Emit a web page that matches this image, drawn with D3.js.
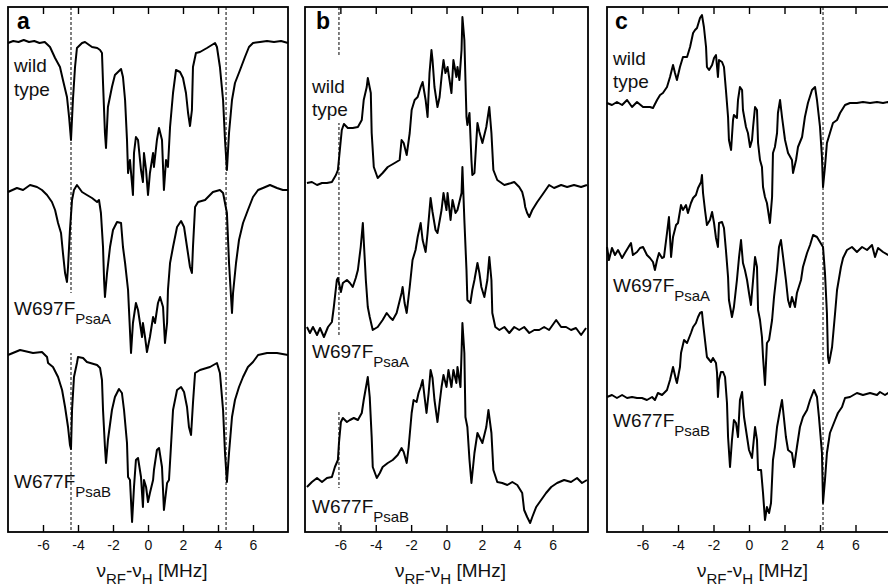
<!DOCTYPE html>
<html>
<head>
<meta charset="utf-8">
<script src="https://cdn.jsdelivr.net/npm/d3@7"></script>
<style>
  body { margin: 0; background: #fff; }
  svg { display: block; font-family: "Liberation Sans", Arial, Helvetica, sans-serif; }
</style>
</head>
<body>
<div class="chart"></div>
<script>
// ENDOR spectra, x = nu_RF - nu_H [MHz], y = intensity (a.u., stacked)
var ticks = [-6, -4, -2, 0, 2, 4, 6];
var panelLetters = ["a", "b", "c"];
var sampleNames = ["wild type", "W697F", "W677F"];
var sampleSubs = ["", "PsaA", "PsaB"];
var markersA = [-4.4, 4.46];
var markersB = [-6.08];
var markersC = [4.17];

var aWild = [[-8.0,489],[-7.7,491],[-7.4,490],[-7.1,492],[-6.8,490],[-6.5,491],[-6.2,489],[-5.9,490],[-5.6,485],[-5.31,474],[-5.03,465],[-4.86,452],[-4.63,435],[-4.51,415],[-4.4,392],[-4.29,432],[-4.17,465],[-4.06,484],[-3.77,489],[-3.6,490],[-3.2,485],[-2.9,484],[-2.74,482],[-2.63,479],[-2.57,449],[-2.46,399],[-2.4,384],[-2.29,425],[-2.06,445],[-1.89,457],[-1.54,463],[-1.43,455],[-1.31,432],[-1.2,392],[-1.14,359],[-1.03,372],[-0.86,337],[-0.8,379],[-0.69,395],[-0.57,392],[-0.4,362],[-0.29,350],[-0.23,379],[-0.11,362],[0,337],[0.11,359],[0.29,379],[0.34,365],[0.51,392],[0.63,404],[0.8,392],[0.91,342],[1.03,372],[1.14,365],[1.26,405],[1.43,439],[1.6,462],[1.83,460],[2.0,454],[2.17,439],[2.29,419],[2.4,406],[2.51,422],[2.57,465],[2.74,479],[2.97,480],[3.37,484],[3.83,489],[3.94,485],[4.11,465],[4.29,432],[4.4,392],[4.51,362],[4.63,399],[4.8,432],[4.97,449],[5.26,462],[5.54,475],[5.77,485],[6.0,489],[6.4,490],[6.8,491],[7.2,490],[7.6,491],[8.0,489]];
var aW697F = [[-8,340],[-7.49,344],[-7.14,342],[-6.74,347],[-6.34,345],[-6.06,342],[-5.77,337],[-5.49,330],[-5.31,322],[-5.14,309],[-4.97,299],[-4.86,279],[-4.74,259],[-4.63,250],[-4.57,265],[-4.46,302],[-4.34,332],[-4.23,342],[-4.06,347],[-3.77,340],[-3.49,337],[-3.2,334],[-2.91,330],[-2.8,332],[-2.69,319],[-2.57,285],[-2.51,252],[-2.46,235],[-2.34,259],[-2.17,285],[-2.0,302],[-1.77,310],[-1.54,309],[-1.43,285],[-1.31,269],[-1.14,242],[-0.97,179],[-0.86,209],[-0.69,229],[-0.57,222],[-0.34,195],[-0.29,209],[-0.17,195],[-0.06,180],[0.11,195],[0.29,215],[0.4,209],[0.57,229],[0.69,235],[0.86,225],[0.97,189],[1.09,209],[1.14,242],[1.26,269],[1.43,285],[1.66,305],[1.89,311],[2.06,305],[2.23,285],[2.4,265],[2.51,259],[2.57,285],[2.69,325],[2.86,330],[3.26,332],[3.71,340],[4.11,342],[4.29,339],[4.51,319],[4.63,269],[4.8,219],[4.86,239],[5.03,269],[5.2,292],[5.43,309],[5.71,322],[6.0,335],[6.29,342],[6.57,344],[6.97,347],[7.37,344],[7.71,342],[8,342]];
var aW677F = [[-8,177],[-7.31,182],[-6.57,179],[-6.06,180],[-5.77,175],[-5.71,169],[-5.43,165],[-5.14,155],[-4.91,142],[-4.74,125],[-4.57,105],[-4.46,87],[-4.4,83],[-4.34,122],[-4.23,155],[-4.06,169],[-4.0,175],[-3.71,174],[-3.49,170],[-2.91,167],[-2.74,164],[-2.63,152],[-2.57,122],[-2.46,85],[-2.4,69],[-2.29,92],[-2.06,122],[-1.89,135],[-1.66,143],[-1.49,139],[-1.37,122],[-1.2,89],[-1.14,55],[-1.03,52],[-0.91,10],[-0.8,45],[-0.69,72],[-0.57,74],[-0.4,55],[-0.29,25],[-0.23,52],[-0.11,45],[0,30],[0.11,39],[0.29,52],[0.34,62],[0.51,82],[0.63,84],[0.8,65],[0.91,22],[1.09,49],[1.2,52],[1.31,85],[1.43,122],[1.66,142],[1.89,145],[2.06,140],[2.23,125],[2.34,105],[2.46,97],[2.57,129],[2.69,159],[2.97,162],[3.54,165],[3.94,169],[4.11,159],[4.29,122],[4.4,79],[4.51,50],[4.63,79],[4.8,115],[4.97,132],[5.2,145],[5.43,155],[5.71,165],[6.0,170],[6.29,177],[6.8,179],[7.37,179],[8,177]];

var bWild = [[-7.89,349],[-7.61,350],[-7.32,347],[-7.04,349],[-6.76,349],[-6.48,350],[-6.25,357],[-6.14,362],[-6.03,382],[-5.92,402],[-5.8,408],[-5.58,404],[-5.3,404],[-5.01,405],[-4.79,412],[-4.68,432],[-4.51,445],[-4.45,454],[-4.28,439],[-4.23,399],[-4.11,365],[-3.89,354],[-3.61,359],[-3.32,365],[-2.93,369],[-2.65,372],[-2.54,392],[-2.42,389],[-2.25,377],[-2.08,399],[-1.97,422],[-1.8,432],[-1.63,435],[-1.46,445],[-1.35,450],[-1.18,432],[-1.07,415],[-0.96,459],[-0.85,482],[-0.79,472],[-0.68,445],[-0.51,425],[-0.39,435],[-0.28,455],[-0.17,472],[-0.06,459],[0.06,465],[0.17,452],[0.28,439],[0.39,472],[0.56,455],[0.62,465],[0.73,452],[0.85,482],[0.9,515],[1.01,492],[1.13,415],[1.18,407],[1.3,419],[1.41,372],[1.46,357],[1.58,359],[1.69,392],[1.75,409],[1.86,400],[2.03,389],[2.25,405],[2.42,425],[2.54,399],[2.65,362],[2.87,352],[3.27,347],[3.66,349],[3.83,350],[4.11,345],[4.28,340],[4.39,332],[4.45,325],[4.56,319],[4.68,315],[4.85,322],[5.13,330],[5.41,337],[5.8,347],[6.08,344],[6.48,347],[6.82,345],[7.21,347],[7.61,345],[7.94,347]];
var bW697F = [[-7.89,205],[-7.72,199],[-7.55,205],[-7.32,197],[-7.15,204],[-6.93,195],[-6.7,205],[-6.48,210],[-6.37,225],[-6.2,252],[-6.14,254],[-5.97,240],[-5.86,249],[-5.63,252],[-5.46,249],[-5.3,245],[-5.13,254],[-5.01,262],[-4.85,285],[-4.73,309],[-4.68,292],[-4.56,252],[-4.45,225],[-4.34,215],[-4.17,202],[-3.89,205],[-3.61,212],[-3.38,219],[-3.21,215],[-3.04,212],[-2.82,219],[-2.54,239],[-2.48,245],[-2.37,229],[-2.25,219],[-2.08,245],[-1.92,272],[-1.75,282],[-1.63,295],[-1.46,309],[-1.35,292],[-1.18,280],[-1.07,299],[-0.9,334],[-0.79,320],[-0.62,302],[-0.51,299],[-0.28,322],[-0.17,339],[0,322],[0.06,339],[0.23,312],[0.34,332],[0.51,319],[0.62,322],[0.85,339],[0.9,365],[1.01,312],[1.13,262],[1.18,232],[1.35,229],[1.46,242],[1.58,252],[1.75,269],[1.86,259],[1.97,245],[2.14,235],[2.31,252],[2.42,275],[2.54,252],[2.59,219],[2.76,205],[2.99,202],[3.27,205],[3.55,199],[3.83,205],[4.11,202],[4.39,205],[4.68,199],[4.96,202],[5.24,202],[5.52,205],[5.8,202],[6.2,212],[6.48,205],[6.76,205],[7.04,202],[7.32,204],[7.61,197],[7.89,204]];
var bW677F = [[-7.89,45],[-7.61,50],[-7.32,54],[-7.04,50],[-6.76,54],[-6.48,55],[-6.31,65],[-6.14,72],[-6.08,89],[-5.97,110],[-5.86,114],[-5.63,110],[-5.46,112],[-5.24,114],[-5.01,112],[-4.79,119],[-4.68,132],[-4.51,149],[-4.45,155],[-4.34,135],[-4.23,95],[-4.17,65],[-3.94,54],[-3.77,59],[-3.61,65],[-3.32,69],[-3.04,72],[-2.76,77],[-2.54,84],[-2.42,80],[-2.25,69],[-2.14,85],[-1.97,119],[-1.86,132],[-1.69,130],[-1.58,139],[-1.46,145],[-1.35,152],[-1.24,135],[-1.13,119],[-1.01,139],[-0.9,162],[-0.79,154],[-0.68,132],[-0.51,110],[-0.39,129],[-0.28,145],[-0.17,157],[0,145],[0.11,162],[0.28,145],[0.39,162],[0.56,149],[0.62,165],[0.79,145],[0.85,179],[0.9,209],[1.01,179],[1.07,115],[1.18,105],[1.3,72],[1.41,49],[1.58,79],[1.75,99],[1.86,95],[2.03,89],[2.25,105],[2.37,122],[2.54,99],[2.65,62],[2.87,50],[3.15,49],[3.44,47],[3.72,50],[4.0,47],[4.28,39],[4.39,22],[4.56,15],[4.73,9],[4.85,15],[5.07,25],[5.35,32],[5.63,39],[5.92,45],[6.25,49],[6.65,52],[7.04,50],[7.38,54],[7.66,49],[7.94,52]];

var cWild = [[-8.0,429],[-7.72,427],[-7.44,430],[-7.15,427],[-6.87,432],[-6.59,425],[-6.31,430],[-5.97,425],[-5.58,425],[-5.41,424],[-5.18,432],[-5.01,437],[-4.85,439],[-4.62,445],[-4.45,455],[-4.28,467],[-4.17,459],[-4.06,452],[-3.89,465],[-3.72,475],[-3.49,475],[-3.32,485],[-3.15,499],[-3.04,502],[-2.93,504],[-2.76,514],[-2.65,517],[-2.54,505],[-2.42,485],[-2.37,465],[-2.25,462],[-2.08,467],[-1.97,474],[-1.86,477],[-1.75,455],[-1.69,472],[-1.52,470],[-1.41,465],[-1.3,442],[-1.18,415],[-1.13,392],[-1.01,382],[-0.9,412],[-0.85,417],[-0.68,414],[-0.62,432],[-0.51,445],[-0.39,442],[-0.34,422],[-0.17,405],[-0.06,399],[0.06,385],[0.17,392],[0.23,405],[0.34,425],[0.45,422],[0.51,389],[0.62,372],[0.73,365],[0.79,345],[0.9,335],[1.01,329],[1.07,322],[1.18,309],[1.3,335],[1.35,379],[1.46,385],[1.58,399],[1.63,419],[1.75,432],[1.86,415],[2.03,392],[2.2,379],[2.42,372],[2.48,359],[2.65,372],[2.76,385],[2.99,395],[3.15,415],[3.32,429],[3.55,442],[3.72,445],[3.83,432],[4.0,405],[4.11,375],[4.17,345],[4.28,365],[4.39,389],[4.56,399],[4.73,409],[4.96,412],[5.13,419],[5.41,427],[5.69,429],[6.08,429],[6.42,430],[6.82,429],[7.21,430],[7.55,429],[7.83,430],[8.0,428]];
var cW697F = [[-8.0,285],[-7.89,272],[-7.72,284],[-7.55,277],[-7.38,282],[-7.15,274],[-6.99,279],[-6.82,284],[-6.65,289],[-6.54,277],[-6.31,280],[-6.14,284],[-5.97,285],[-5.75,277],[-5.58,274],[-5.41,270],[-5.3,262],[-5.18,272],[-5.07,279],[-4.9,274],[-4.79,275],[-4.62,299],[-4.51,315],[-4.39,275],[-4.28,295],[-4.11,307],[-4.0,309],[-3.83,327],[-3.72,322],[-3.55,327],[-3.44,319],[-3.27,329],[-3.15,334],[-2.99,337],[-2.87,344],[-2.7,350],[-2.65,357],[-2.59,339],[-2.48,322],[-2.37,307],[-2.2,312],[-2.08,320],[-1.97,309],[-1.86,294],[-1.75,285],[-1.69,309],[-1.52,310],[-1.41,304],[-1.3,282],[-1.18,255],[-1.13,232],[-0.96,215],[-0.85,225],[-0.68,252],[-0.56,275],[-0.45,292],[-0.34,269],[-0.23,262],[-0.11,252],[0,239],[0.11,227],[0.23,252],[0.34,275],[0.45,265],[0.51,222],[0.62,212],[0.73,195],[0.79,175],[0.9,147],[1.01,189],[1.13,192],[1.3,212],[1.41,235],[1.58,262],[1.69,285],[1.8,292],[1.92,275],[2.08,252],[2.2,232],[2.31,225],[2.42,235],[2.59,225],[2.7,239],[2.93,252],[3.04,265],[3.27,279],[3.44,287],[3.61,297],[3.83,295],[4.0,290],[4.17,285],[4.28,259],[4.39,219],[4.45,175],[4.51,169],[4.68,185],[4.85,219],[4.96,242],[5.18,265],[5.3,274],[5.52,282],[5.8,285],[6.08,280],[6.37,285],[6.65,282],[6.93,287],[7.1,275],[7.27,284],[7.55,280],[7.83,277],[8.0,279]];
var cW677F = [[-8.0,135],[-7.72,137],[-7.44,134],[-7.15,137],[-6.87,134],[-6.59,135],[-6.31,134],[-6.03,134],[-5.75,132],[-5.46,135],[-5.3,132],[-5.13,139],[-4.9,137],[-4.73,140],[-4.62,142],[-4.45,152],[-4.28,165],[-4.11,152],[-4.06,149],[-3.89,165],[-3.83,179],[-3.66,192],[-3.49,189],[-3.27,199],[-3.15,205],[-2.99,209],[-2.87,215],[-2.76,219],[-2.65,220],[-2.59,209],[-2.48,192],[-2.37,175],[-2.14,170],[-2.03,174],[-1.86,169],[-1.8,159],[-1.75,135],[-1.69,152],[-1.58,160],[-1.46,160],[-1.35,155],[-1.24,129],[-1.18,95],[-1.07,65],[-0.96,92],[-0.85,112],[-0.73,109],[-0.62,95],[-0.51,132],[-0.39,140],[-0.28,115],[-0.11,95],[0,82],[0.17,74],[0.23,85],[0.34,105],[0.45,92],[0.51,62],[0.68,62],[0.79,39],[0.9,12],[1.01,25],[1.13,19],[1.24,29],[1.35,72],[1.46,85],[1.58,105],[1.75,122],[1.86,132],[1.92,122],[2.08,95],[2.2,82],[2.42,79],[2.54,65],[2.7,85],[2.87,105],[3.04,115],[3.27,122],[3.44,132],[3.66,142],[3.83,135],[3.94,115],[4.11,79],[4.17,29],[4.28,52],[4.39,79],[4.56,99],[4.85,112],[5.01,119],[5.24,125],[5.41,134],[5.69,135],[6.08,139],[6.42,137],[6.82,139],[7.21,137],[7.38,140],[7.66,137],[7.83,139],[8.0,137]];

(function() {
  var width = 888, height = 586,
    top = 7, bottom = 532;

  var svg = d3.select(".chart").append("svg")
    .attr("width", width)
    .attr("height", height);

  var y = d3.scaleLinear().domain([0, 525]).range([bottom, top]);

  // layout for each panel: frame, label baselines, white gaps in the dashed lines
  var panels = [
    {x0: 8, x1: 288, series: [aWild, aW697F, aW677F], markers: markersA,
      letterX: 17, textX: 14, wild: [72, 96], names: [315, 488],
      gaps: [[0, 293, 353]]},
    {x0: 305, x1: 588, series: [bWild, bW697F, bW677F], markers: markersB,
      letterX: 316, textX: 312, wild: [93, 116], names: [358, 513],
      gaps: [[0, 57, 123], [0, 337, 410], [0, 488, 520]]},
    {x0: 607, x1: 891, series: [cWild, cW697F, cW677F], markers: markersC,
      letterX: 615, textX: 613, wild: [65, 88], names: [292, 427],
      gaps: []}
  ];

  panels.forEach(function(p, i) {
    var x = d3.scaleLinear().domain([-8, 8]).range([p.x0, p.x1]);
    var g = svg.append("g");

    // dashed guide lines
    g.selectAll("line.marker")
      .data(p.markers)
    .enter().append("line")
      .attr("class", "marker")
      .attr("x1", function(d) { return x(d); })
      .attr("x2", function(d) { return x(d); })
      .attr("y1", top)
      .attr("y2", bottom)
      .attr("stroke", "#000")
      .attr("stroke-width", 1)
      .attr("stroke-dasharray", "3,2");

    p.gaps.forEach(function(gp) {
      g.append("rect")
        .attr("x", x(p.markers[gp[0]]) - 3)
        .attr("y", gp[1])
        .attr("width", 6)
        .attr("height", gp[2] - gp[1])
        .attr("fill", "#fff");
    });

    var line = d3.line()
      .x(function(d) { return x(d[0]); })
      .y(function(d) { return y(d[1]); });

    g.selectAll("path.spec")
      .data(p.series)
    .enter().append("path")
      .attr("class", "spec")
      .attr("d", line)
      .attr("fill", "none")
      .attr("stroke", "#000")
      .attr("stroke-width", 2)
      .attr("stroke-linejoin", "round");

    // axes, ticks inward
    var ax = g.append("g")
      .attr("transform", "translate(0," + bottom + ")")
      .call(d3.axisBottom(x).tickValues(ticks).tickSizeInner(-7).tickSizeOuter(0)
        .tickPadding(8).tickFormat(function(d) { return String(d); }));
    ax.select(".domain").remove();
    ax.selectAll("line").attr("stroke-width", 1.4);
    ax.selectAll("text")
      .attr("font-family", "Liberation Sans, Arial, sans-serif")
      .attr("font-size", 14)
      .attr("fill", "#111");

    var axt = g.append("g")
      .attr("transform", "translate(0," + top + ")")
      .call(d3.axisTop(x).tickValues(ticks).tickSizeInner(-7).tickSizeOuter(0).tickFormat(""));
    axt.select(".domain").remove();
    axt.selectAll("line").attr("stroke-width", 1.4);

    g.append("rect")
      .attr("x", p.x0)
      .attr("y", top)
      .attr("width", p.x1 - p.x0)
      .attr("height", bottom - top)
      .attr("fill", "none")
      .attr("stroke", "#000")
      .attr("stroke-width", 1.8);

    // axis title
    var cx = (p.x0 + Math.min(p.x1, p.x0 + 283)) / 2;
    var t = g.append("text")
      .attr("x", cx + 4)
      .attr("y", 577)
      .attr("text-anchor", "middle")
      .attr("font-size", 19)
      .attr("fill", "#111");
    t.append("tspan").text("\u03bd");
    t.append("tspan").attr("font-size", 15).attr("dy", 7).text("RF");
    t.append("tspan").attr("dy", -7).text("-\u03bd");
    t.append("tspan").attr("font-size", 15).attr("dy", 7).text("H");
    t.append("tspan").attr("dy", -7).text(" [MHz]");

    // panel letter
    g.append("text")
      .attr("x", p.letterX)
      .attr("y", 29)
      .attr("font-size", 23)
      .attr("font-weight", "bold")
      .text(panelLetters[i]);

    // sample labels
    var words = sampleNames[0].split(" ");
    words.forEach(function(w, k) {
      g.append("text")
        .attr("x", p.textX)
        .attr("y", p.wild[k])
        .attr("font-size", 19)
        .attr("fill", "#111")
        .text(w);
    });
    [1, 2].forEach(function(k) {
      var lt = g.append("text")
        .attr("x", p.textX)
        .attr("y", p.names[k - 1])
        .attr("font-size", 19)
        .attr("fill", "#111");
      lt.append("tspan").text(sampleNames[k]);
      lt.append("tspan").attr("font-size", 15).attr("dy", 9).text(sampleSubs[k]);
    });
  });
})();
</script>
</body>
</html>
